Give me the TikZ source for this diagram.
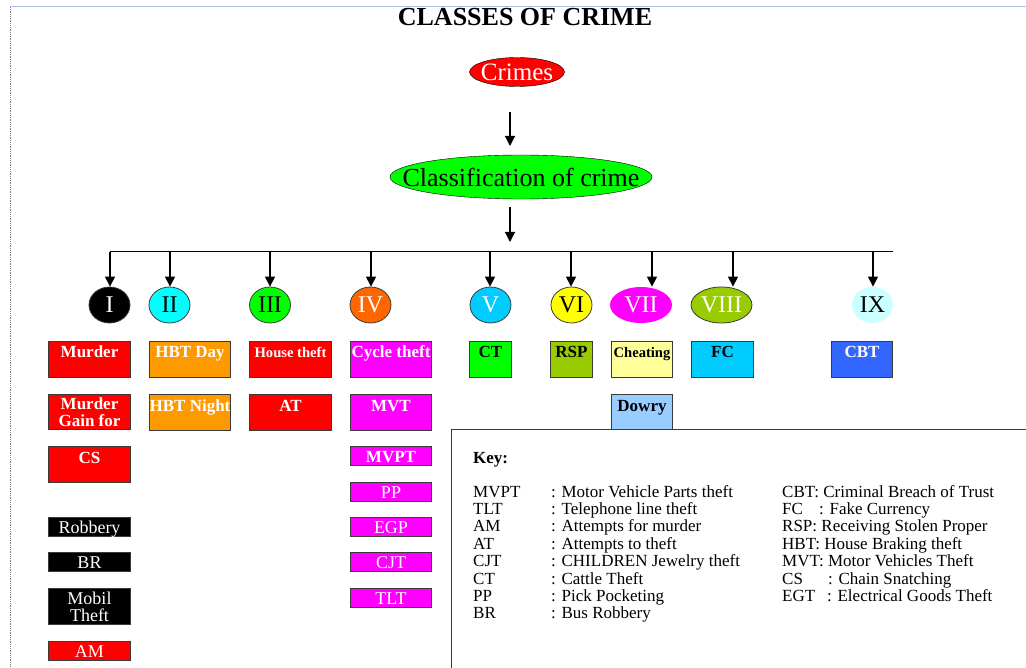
\documentclass[tikz,border=0pt]{standalone}
\usepackage{fontspec}
\setmainfont{Liberation Serif}
\usetikzlibrary{shapes.geometric,arrows.meta}

\definecolor{boxred}{HTML}{FF0000}
\definecolor{boxorange}{HTML}{FF9900}
\definecolor{boxmagenta}{HTML}{FF00FF}
\definecolor{boxgreen}{HTML}{00FF00}
\definecolor{boxolive}{HTML}{99CC00}
\definecolor{boxcream}{HTML}{FFFF99}
\definecolor{boxsky}{HTML}{00CCFF}
\definecolor{boxblue}{HTML}{3366FF}
\definecolor{boxpale}{HTML}{99CCFF}
\definecolor{ovalorange}{HTML}{FF6600}
\definecolor{ovalice}{HTML}{CCFFFF}
\definecolor{ovalyellow}{HTML}{FFFF00}
\definecolor{ovalcyan}{HTML}{00FFFF}
\definecolor{edgegray}{HTML}{3A3A3A}
\definecolor{rulerblue}{HTML}{A9C1E8}

\tikzset{
  arr/.style={line width=1.3pt, -{Triangle[length=10pt,width=10pt]}},
  numeral/.style={ellipse, draw=edgegray, line width=0.8pt, minimum width=41pt,
    minimum height=36pt, inner sep=-2pt, font=\fontsize{24}{24}\selectfont},
  crimebox/.style={draw=edgegray, line width=1pt, inner xsep=0pt, inner ysep=0pt,
    anchor=north west, text=white, font=\bfseries\fontsize{17}{16.5}\selectfont},
  tall/.style={text height=16.5pt, text depth=19.5pt},
  short/.style={text height=16pt, text depth=2.5pt},
  plain/.style={font=\fontsize{18}{17}\selectfont},
  small/.style={font=\bfseries\fontsize{14.6}{14}\selectfont},
  keytext/.style={anchor=base west, inner sep=0pt, font=\fontsize{17}{17}\selectfont}
}

\begin{document}
\begin{tikzpicture}[x=1pt,y=-1pt]
\useasboundingbox (0,0) rectangle (1026,668);

% Page edges
\draw[rulerblue, line width=1pt] (10,7) -- (1026,7);
\draw[gray, densely dotted, line width=0.8pt] (10,7) -- (10,668);

% Title and the top of the tree
\node[font=\bfseries\fontsize{26}{26}\selectfont, anchor=base] (title) at (525,26) {CLASSES OF CRIME};
\node[ellipse, draw, fill=boxred, minimum width=95pt, minimum height=29pt, inner sep=0pt,
  label={[text=white, font=\fontsize{25}{25}\selectfont]center:Crimes}] (crimes) at (517,72) {};
\node[ellipse, draw, fill=boxgreen, minimum width=262pt, minimum height=44pt, inner sep=0pt,
  label={[font=\fontsize{26}{26}\selectfont]center:Classification of crime}] (classif) at (521,177) {};

\coordinate (c1) at (510,112);
\coordinate (c2) at (510,146);
\coordinate (c3) at (510,207);
\coordinate (c4) at (510,242);
\draw[arr] (c1) -- (c2);
\draw[arr] (c3) -- (c4);

% Classes
\node[numeral, fill=black, text=white] (one) at (109.5,305) {I};
\node[numeral, fill=ovalcyan] (two) at (169.5,305) {II};
\node[numeral, fill=boxgreen] (three) at (270,305) {III};
\node[numeral, fill=ovalorange, text=white] (four) at (370.5,305) {IV};
\node[numeral, fill=boxsky, text=white] (five) at (490.5,305) {V};
\node[numeral, fill=ovalyellow] (six) at (571.5,305) {VI};
\node[numeral, draw=none, fill=boxmagenta, text=white, minimum width=62pt] (seven) at (641,305) {VII};
\node[numeral, fill=boxolive, text=white, minimum width=61pt] (eight) at (721.5,305) {VIII};
\node[numeral, draw=none, fill=ovalice] (nine) at (872.5,305) {IX};

\coordinate (barL) at (110,252);
\coordinate (barR) at (893,252);
\draw[line width=1pt] (barL) -- (barR);
\foreach \n/\x in {one/110,two/170,three/270,four/371,five/490,six/571,seven/652,eight/733,nine/873}
  \draw[arr] (\x,252) -- (\x,0 |- \n.north);

% First row of crimes
\node[crimebox, tall, fill=boxred, minimum width=82pt] (murder) at (48,341) {Murder};
\node[crimebox, tall, fill=boxorange, minimum width=81pt] (hbtday) at (149,341) {HBT Day};
\node[crimebox, tall, small, fill=boxred, minimum width=82pt] (house) at (249,341) {House theft};
\node[crimebox, tall, fill=boxmagenta, minimum width=81pt] (cycle) at (350,341) {Cycle theft};
\node[crimebox, tall, fill=boxgreen, text=black, minimum width=42pt] (ct) at (469,341) {CT};
\node[crimebox, tall, fill=boxolive, text=black, minimum width=42pt] (rsp) at (550,341) {RSP};
\node[crimebox, tall, small, fill=boxcream, text=black, minimum width=61pt] (cheat) at (611,341) {Cheating};
\node[crimebox, tall, fill=boxsky, text=black, minimum width=62pt] (fc) at (691,341) {FC};
\node[crimebox, tall, fill=boxblue, minimum width=61pt] (cbt) at (831,341) {CBT};

% Second row
\node[crimebox, fill=boxred, minimum width=82pt, minimum height=35pt, align=center] (gain) at (48,394) {Murder\\Gain for};
\node[crimebox, tall, fill=boxorange, minimum width=81pt] (hbtnight) at (149,394) {HBT Night};
\node[crimebox, tall, fill=boxred, minimum width=82pt] (at) at (249,394) {AT};
\node[crimebox, tall, fill=boxmagenta, minimum width=81pt] (mvt) at (350,394) {MVT};
\node[crimebox, tall, fill=boxpale, text=black, minimum width=61pt] (dowry) at (611,394) {Dowry};

% Rest of class I
\node[crimebox, tall, fill=boxred, minimum width=82pt] (cs) at (48,446) {CS};
\node[crimebox, short, plain, fill=black, minimum width=82pt] (robbery) at (48,517) {Robbery};
\node[crimebox, short, plain, fill=black, minimum width=82pt] (br) at (48,552) {BR};
\node[crimebox, plain, fill=black, minimum width=82pt, minimum height=36pt, align=center] (mobil) at (48,588) {Mobil\\Theft};
\node[crimebox, short, plain, fill=boxred, minimum width=82pt] (am) at (48,641) {AM};

% Rest of class IV
\node[crimebox, short, fill=boxmagenta, minimum width=81pt] (mvpt) at (350,446) {MVPT};
\node[crimebox, short, plain, fill=boxmagenta, minimum width=81pt] (pp) at (350,482) {PP};
\node[crimebox, short, plain, fill=boxmagenta, minimum width=81pt] (egp) at (350,517) {EGP};
\node[crimebox, short, plain, fill=boxmagenta, minimum width=81pt] (cjt) at (350,552) {CJT};
\node[crimebox, short, plain, fill=boxmagenta, minimum width=81pt] (tlt) at (350,588) {TLT};

% Key
\fill[white] (451,429) rectangle (1026,668);
\draw[edgegray, line width=1pt] (451,668) -- (451,429) -- (1026,429);
\node[keytext, font=\bfseries\fontsize{17}{17}\selectfont] (key) at (473,463) {Key:};
\foreach \ab/\txt [count=\i from 0] in {MVPT/Motor Vehicle Parts theft, TLT/Telephone line theft,
    AM/Attempts for murder, AT/Attempts to theft, CJT/CHILDREN Jewelry theft, CT/Cattle Theft,
    PP/Pick Pocketing, BR/Bus Robbery}
{
  \node[keytext] (kab\i) at (473,497+17.4*\i) {\ab};
  \node[keytext] (ktx\i) at (551,497+17.4*\i) {: \txt};
}
\node[keytext] (kr0) at (782,497) {CBT: Criminal Breach of Trust};
\node[keytext] (kr1) at (782,514.4) {FC};
\node[keytext] at (819,514.4) {: Fake Currency};
\node[keytext] (kr2) at (782,531.8) {RSP: Receiving Stolen Proper};
\node[keytext] (kr3) at (782,549.2) {HBT: House Braking theft};
\node[keytext] (kr4) at (782,566.6) {MVT: Motor Vehicles Theft};
\node[keytext] (kr5) at (782,584) {CS};
\node[keytext] at (828,584) {: Chain Snatching};
\node[keytext] (kr6) at (782,601.4) {EGT};
\node[keytext] at (827,601.4) {: Electrical Goods Theft};
\end{tikzpicture}
\end{document}
